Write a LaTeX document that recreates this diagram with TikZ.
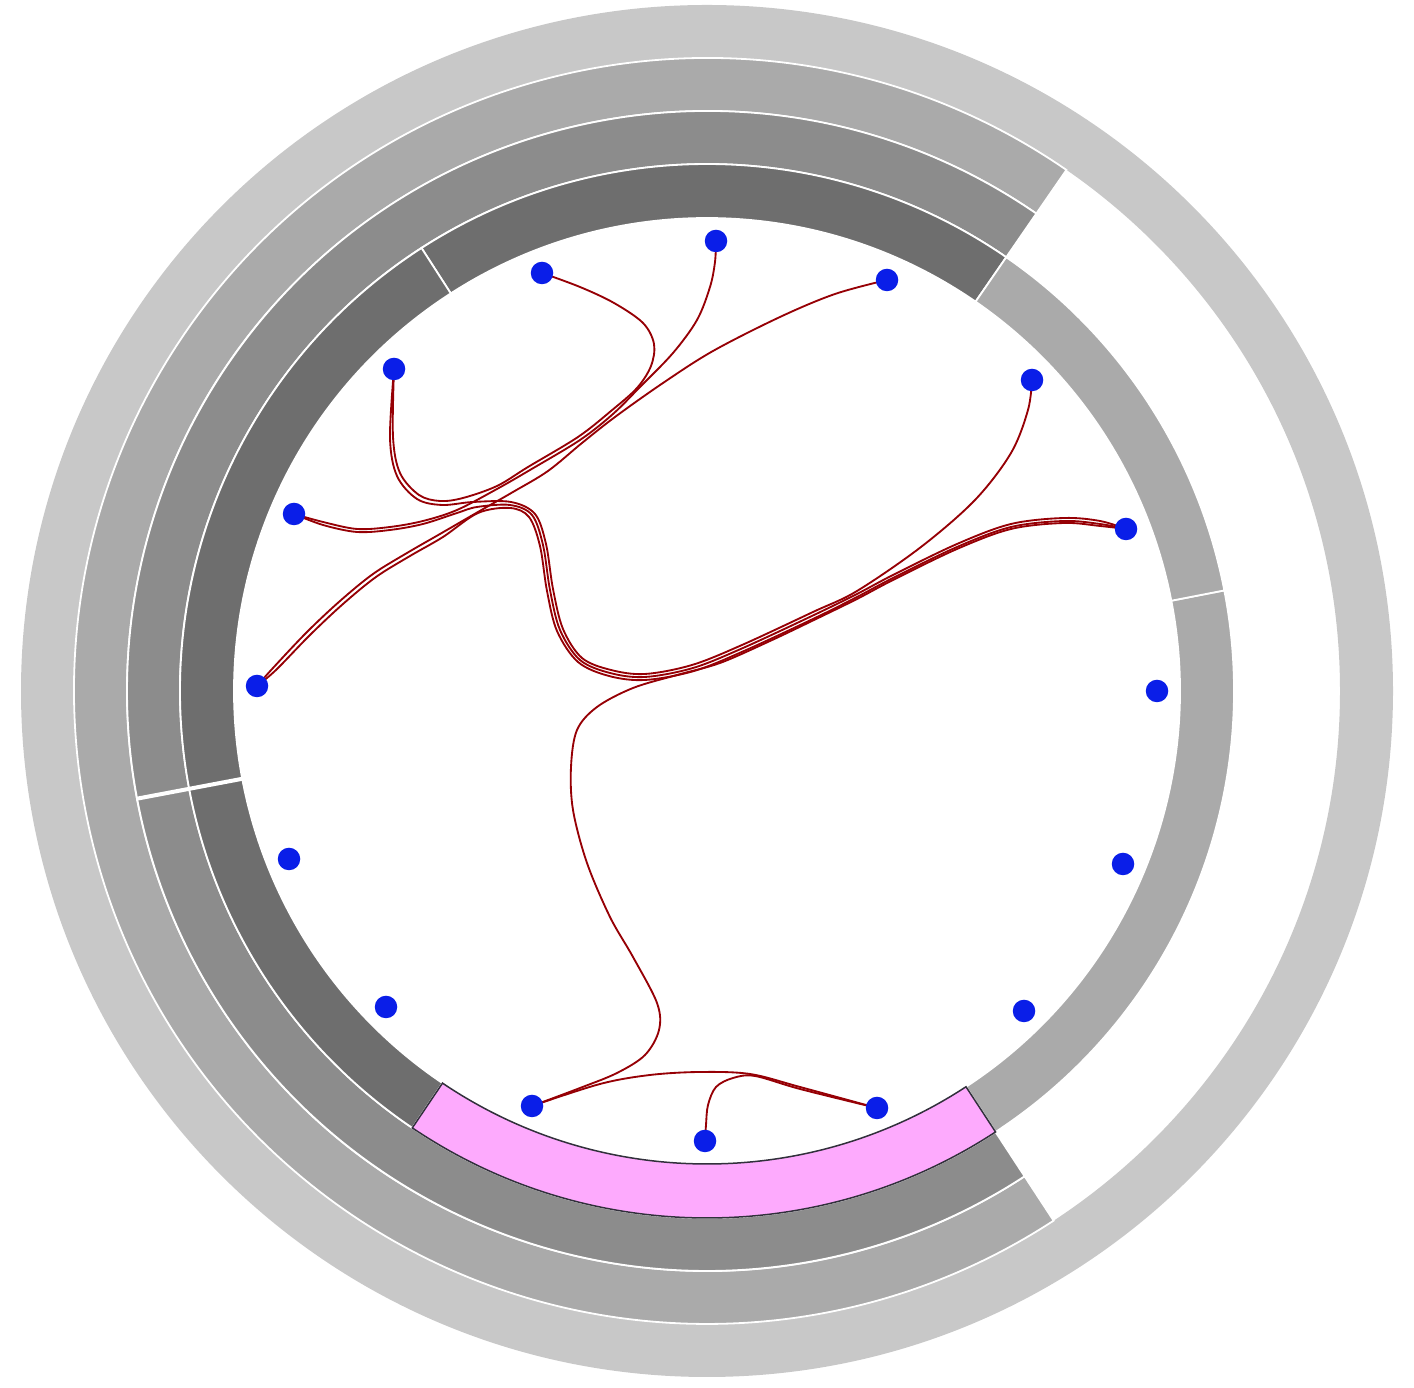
\documentclass[tikz,border=0pt]{standalone}
\pgfdeclarelayer{bg}
\pgfsetlayers{bg,main}
\definecolor{ringA}{RGB}{200,200,200}
\definecolor{ringB}{RGB}{170,170,170}
\definecolor{ringC}{RGB}{140,140,140}
\definecolor{ringD}{RGB}{110,110,110}
\definecolor{pinkseg}{RGB}{253,170,253}
\definecolor{pinkline}{RGB}{50,48,60}
\definecolor{leafblue}{RGB}{10,30,232}
\definecolor{edgered}{RGB}{150,0,5}
\tikzset{
  seg/.style={draw=white, line width=1.8pt, line join=miter},
  leaf/.style={circle, fill=leafblue, draw=none, inner sep=0pt, minimum size=22.5pt},
  bund/.style={draw=edgered, line width=1.85pt, line cap=round, line join=round},
}
\newcommand\annseg[5]{\path[seg,#1] (#2:#5pt) arc[start angle=#2, end angle=#3, radius=#5pt] -- (#3:#4pt) arc[start angle=#3, end angle=#2, radius=#4pt] -- cycle;}
\begin{document}
\begin{tikzpicture}[x=1pt,y=1pt]
\useasboundingbox (0,0) rectangle (1414,1388);
% leaves (image coordinates, y downwards)
\begin{scope}[shift={(0,1388)}, yscale=-1]
  \node[leaf] (L0) at (1157,691) {};
  \node[leaf] (L1) at (1126,529) {};
  \node[leaf] (L2) at (1032,380) {};
  \node[leaf] (L3) at (887,280) {};
  \node[leaf] (L4) at (716,241) {};
  \node[leaf] (L5) at (542,273) {};
  \node[leaf] (L6) at (394,369) {};
  \node[leaf] (L7) at (294,514) {};
  \node[leaf] (L8) at (257,686) {};
  \node[leaf] (L9) at (289,859) {};
  \node[leaf] (L10) at (386,1007) {};
  \node[leaf] (L11) at (532,1106) {};
  \node[leaf] (L12) at (705,1141) {};
  \node[leaf] (L13) at (877,1108) {};
  \node[leaf] (L14) at (1024,1011) {};
  \node[leaf] (L15) at (1123,864) {};
\end{scope}
\begin{pgfonlayer}{bg}
  % rings
  \begin{scope}[shift={(707,697)}]
    \path[fill=ringA, even odd rule] (0,0) circle[radius=686pt] (0,0) circle[radius=633pt];
    \annseg{fill=ringB}{55.4}{303.2}{580}{633}
    \annseg{fill=ringC}{55.4}{190.7}{527}{580}
    \annseg{fill=ringC}{190.7}{303.2}{527}{580}
    \annseg{fill=ringD}{55.4}{122.8}{473}{527}
    \annseg{fill=ringD}{122.8}{190.7}{473}{527}
    \annseg{fill=ringD}{190.7}{236}{473}{527}
    \annseg{fill=ringB}{303.2}{371}{473}{527}
    \annseg{fill=ringB}{11}{55.4}{473}{527}
    \draw[white, line width=4pt] (190.7:472pt) -- (190.7:581pt);
    \annseg{fill=pinkseg, draw=pinkline, line width=1.5pt}{236}{303.2}{473}{527}
  \end{scope}
  % bundled connectors
  \begin{scope}[shift={(0,1388)}, yscale=-1]
    % L6 -> L5
    \draw[bund] plot[smooth, tension=0.55] coordinates {(L6.center) (393,437) (400,473) (419,495) (440,501) (463,498) (497,486) (528,467) (578,437) (611,411) (637,388) (651,366) (654,344) (643,323) (614,303) (580,287) (L5.center)};
    % L7 -> L4
    \draw[bund] plot[smooth, tension=0.55] coordinates {(L7.center) (323,522) (357,529) (390,527) (423,521) (457,510) (497,489) (530,470) (580,440) (613,414) (640,387) (673,353) (697,320) (710,287) (715,262) (L4.center)};
    % L8 -> L3
    \draw[bund] plot[smooth, tension=0.55] coordinates {(L8.center) (273,668) (307,632) (340,601) (373,574) (407,553) (440,534) (478,512) (513,492) (548,471) (582,443) (615,417) (663,383) (713,351) (780,317) (835,294) (L3.center)};
    % L6 -> L2
    \draw[bund] plot[smooth, tension=0.55] coordinates {(L6.center) (390,438) (397,476) (417,499) (442,505) (473,502) (511,502) (535,514) (546,544) (553,589) (563,629) (582,658) (611,670) (645,674) (692,665) (742,645) (813,612) (857,591) (921,547) (975,500) (1011,453) (1028,410) (L2.center)};
    % L7 -> L1
    \draw[bund] plot[smooth, tension=0.55] coordinates {(L7.center) (323,525) (357,532) (390,530) (423,524) (457,513) (477,507) (510,505) (532,515) (543,545) (550,590) (560,630) (580,660) (610,673) (645,677) (693,668) (743,648) (814,615) (857,594) (893,575) (957,544) (1011,524) (1064,518) (1100,521) (L1.center)};
    % L8 -> L1
    \draw[bund] plot[smooth, tension=0.55] coordinates {(L8.center) (276,670) (310,635) (343,604) (376,577) (410,556) (443,537) (478,513) (510,508) (529,517) (540,546) (547,591) (557,631) (578,662) (609,676) (645,680) (694,671) (744,651) (815,618) (857,597) (893,578) (957,547) (1011,527) (1064,521) (1100,524) (L1.center)};
    % L11 -> L1
    \draw[bund] plot[smooth, tension=0.55] coordinates {(L11.center) (580,1088) (617,1073) (645,1055) (659,1030) (657,1003) (633,957) (610,917) (587,863) (573,810) (571,767) (577,730) (597,707) (633,688) (677,675) (720,663) (770,641) (814,620) (857,599) (893,580) (957,549) (1011,529) (1064,523) (1100,526) (L1.center)};
    % L11 -> L13
    \draw[bund] plot[smooth, tension=0.55] coordinates {(L11.center) (600,1084) (650,1075) (700,1072) (750,1074) (800,1087) (L13.center)};
    % L12 -> L13
    \draw[bund] plot[smooth, tension=0.55] coordinates {(L12.center) (706,1125) (708,1105) (716,1087) (733,1078) (755,1076) (800,1089) (L13.center)};
  \end{scope}
\end{pgfonlayer}
\end{tikzpicture}
\end{document}
